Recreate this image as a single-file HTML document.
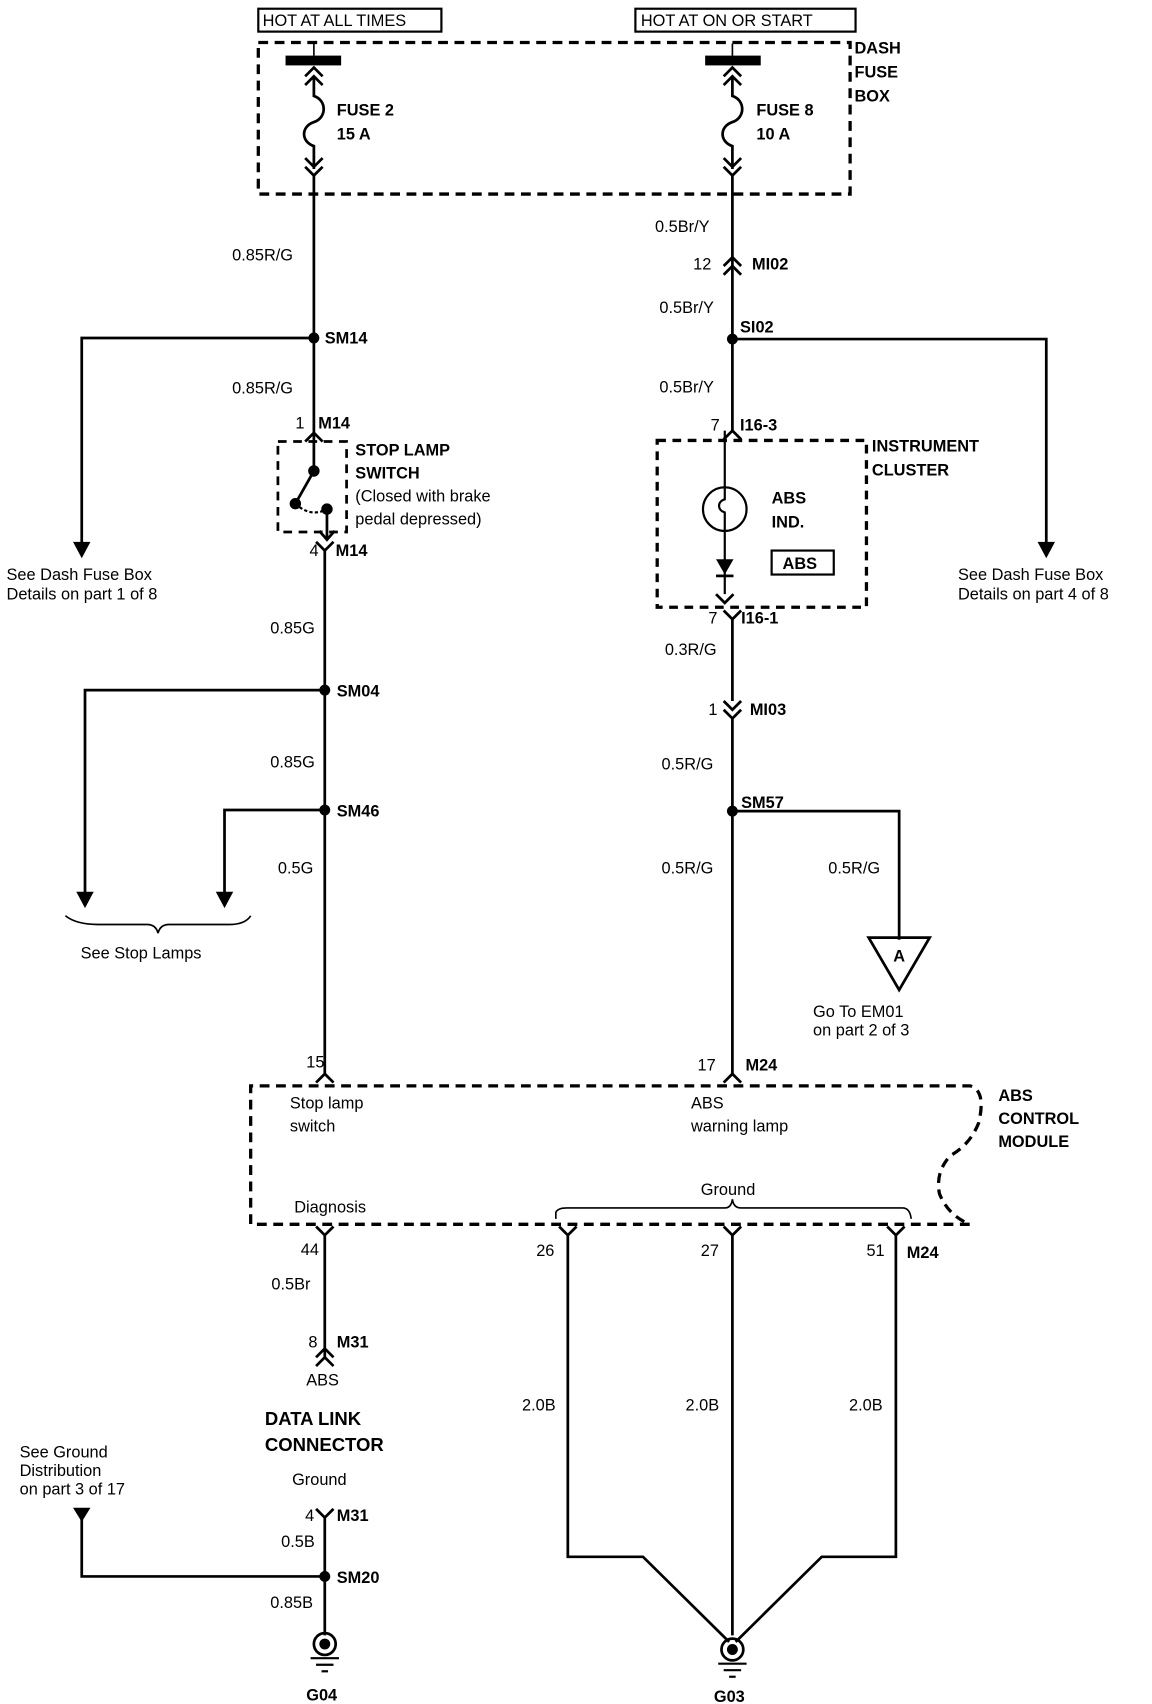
<!DOCTYPE html>
<html><head><meta charset="utf-8"><style>
html,body{margin:0;padding:0;background:#fff;}
svg{display:block}
text{font-family:"Liberation Sans",Arial,sans-serif;font-size:15px;fill:#000}
.b{font-weight:bold}
</style></head><body>
<svg width="1152" height="1704" viewBox="0 0 1057 1563" preserveAspectRatio="none" xmlns="http://www.w3.org/2000/svg">
<g stroke="#000" fill="none" stroke-width="2.5">
<!-- top boxes -->
<rect x="237" y="8" width="168" height="21" stroke-width="2"/>
<rect x="583" y="8" width="202" height="21" stroke-width="2"/>
<rect x="237" y="39" width="543" height="139" stroke-dasharray="9,6" stroke-width="3"/>
<!-- fuse bars -->
<rect x="262" y="51" width="51" height="9" fill="#000" stroke="none"/>
<rect x="647" y="51" width="51" height="9" fill="#000" stroke="none"/>
<line x1="288" y1="40" x2="288" y2="51" stroke-width="1.5"/>
<line x1="672" y1="40" x2="672" y2="51" stroke-width="1.5"/>
<!-- fuse 2 -->
<path d="M280 70 L288 62 L296 70 M280 78 L288 70 L296 78 M288 70 L288 88 C300 92 300 108 288 112 C276 116 276 130 288 134 L288 155 M280 145 L288 153 L296 145 M280 153 L288 161 L296 153"/>
<path d="M664 70 L672 62 L680 70 M664 78 L672 70 L680 78 M672 70 L672 88 C684 92 684 108 672 112 C660 116 660 130 672 134 L672 155 M664 145 L672 153 L680 145 M664 153 L672 161 L680 153"/>
<!-- left main wire -->
<line x1="288" y1="161" x2="288" y2="397"/>
<path d="M280 405 L288 397 L296 405"/>
<rect x="255" y="405" width="63" height="83" stroke-dasharray="8,6" stroke-width="2.5"/>
<path d="M288 397 L288 432 L271 462"/>
<circle cx="288" cy="432" r="4" fill="#000"/>
<circle cx="271" cy="462" r="4" fill="#000"/>
<circle cx="300" cy="467" r="4" fill="#000"/>
<path d="M271 462 Q285 475 300 467" stroke-dasharray="3,2" stroke-width="2"/>
<path d="M300 467 L300 495 M293 487 L300 495 L307 487 M290 497 L298 505 L306 497"/>
<line x1="298" y1="505" x2="298" y2="985"/>
<path d="M290 993 L298 985 L306 993"/>
<!-- left branches -->
<path d="M288 310 L75 310 L75 500"/>
<path d="M298 633 L78 633 L78 820"/>
<path d="M298 743 L206 743 L206 820"/>
<!-- brace See stop lamps -->
<path d="M60 840 Q70 848 90 848 L135 848 Q143 848 145 856 Q147 848 155 848 L210 848 Q225 848 230 840" stroke-width="1.5"/>
<!-- right main wire -->
<line x1="672" y1="161" x2="672" y2="395"/>
<path d="M664 244 L672 236 L680 244 M664 252 L672 244 L680 252"/>
<path d="M664 403 L672 395 L680 403"/>
<rect x="603" y="404" width="192" height="153" stroke-dasharray="8,6" stroke-width="3"/>
<circle cx="665" cy="467" r="20" stroke-width="2"/>
<path d="M665 395 L665 458 C658 460 658 468 665 470 L665 545" stroke-width="2"/>
<path d="M657 545 L665 553 L673 545 M664 560 L672 568 L680 560"/>
<rect x="708" y="505" width="57" height="22" stroke-width="2"/>
<path d="M672 568 L672 643 M664 643 L672 651 L680 643 M664 651 L672 659 L680 651 M672 659 L672 985 M664 993 L672 985 L680 993"/>
<path d="M672 311 L960 311 L960 500"/>
<path d="M672 744 L825 744 L825 862"/>
<!-- ABS control module -->
<path d="M298 996 L890 996 Q905 1000 898 1030 Q890 1050 872 1060 Q858 1075 862 1095 Q870 1115 890 1123 L230 1123 L230 996 L298 996" stroke-dasharray="9,6" stroke-width="3"/>
<path d="M510 1118 L510 1112 Q512 1108 520 1108 L665 1108 Q671 1108 672 1100 Q673 1108 680 1108 L828 1108 Q835 1108 836 1118" stroke-width="1.5"/>
<!-- bottom pins -->
<path d="M290 1125 L298 1133 L306 1125 M298 1133 L298 1245 M290 1253 L298 1245 L306 1253 M290 1245 L298 1237 L306 1245"/>
<path d="M513 1125 L521 1133 L529 1125 M521 1133 L521 1428 L590 1428 L669 1506"/>
<path d="M664 1125 L672 1133 L680 1125 M672 1133 L672 1500"/>
<path d="M814 1125 L822 1133 L830 1125 M822 1133 L822 1428 L754 1428 L675 1506"/>
<!-- G03 -->
<circle cx="672" cy="1513" r="10" stroke-width="2.5"/>
<circle cx="672" cy="1513" r="5" fill="#000" stroke="none"/>
<line x1="659" y1="1526" x2="685" y2="1526" stroke-width="2"/>
<line x1="664" y1="1532" x2="680" y2="1532" stroke-width="2"/>
<line x1="669" y1="1538" x2="675" y2="1538" stroke-width="2"/>
<!-- DLC ground -->
<path d="M290 1384 L298 1392 L306 1384 M298 1392 L298 1500"/>
<path d="M298 1446 L75 1446 L75 1392"/>
<circle cx="298" cy="1508" r="10" stroke-width="2.5"/>
<circle cx="298" cy="1508" r="5" fill="#000" stroke="none"/>
<line x1="285" y1="1521" x2="311" y2="1521" stroke-width="2"/>
<line x1="290" y1="1527" x2="306" y2="1527" stroke-width="2"/>
<line x1="295" y1="1533" x2="301" y2="1533" stroke-width="2"/>
</g>
<g fill="#000">
<circle cx="288" cy="310" r="5"/>
<circle cx="672" cy="311" r="5"/>
<circle cx="298" cy="633" r="5"/>
<circle cx="298" cy="743" r="5"/>
<circle cx="672" cy="744" r="5"/>
<circle cx="298" cy="1446" r="5"/>
<polygon points="67,497 83,497 75,512"/>
<polygon points="952,497 968,497 960,512"/>
<polygon points="70,818 86,818 78,833"/>
<polygon points="198,818 214,818 206,833"/>
<polygon points="67,1383 83,1383 75,1396"/>
<polygon points="657,513 673,513 665,527"/>
<rect x="657" y="527" width="16" height="2.5"/>
</g>
<polygon points="797,860 853,860 825,908" fill="none" stroke="#000" stroke-width="2.5"/>
<text x="825" y="882" class="b" text-anchor="middle">A</text>

<text x="241" y="24">HOT AT ALL TIMES</text>
<text x="588" y="24">HOT AT ON OR START</text>
<text x="784" y="49" class="b">DASH</text>
<text x="784" y="71" class="b">FUSE</text>
<text x="784" y="93" class="b">BOX</text>
<text x="309" y="106" class="b">FUSE 2</text>
<text x="309" y="128" class="b">15 A</text>
<text x="694" y="106" class="b">FUSE 8</text>
<text x="694" y="128" class="b">10 A</text>
<text x="213" y="239">0.85R/G</text>
<text x="298" y="315" class="b">SM14</text>
<text x="213" y="361">0.85R/G</text>
<text x="271" y="393">1</text>
<text x="292" y="393" class="b">M14</text>
<text x="326" y="418" class="b">STOP LAMP</text>
<text x="326" y="439" class="b">SWITCH</text>
<text x="326" y="460">(Closed with brake</text>
<text x="326" y="481">pedal depressed)</text>
<text x="284" y="510">4</text>
<text x="308" y="510" class="b">M14</text>
<text x="6" y="532">See Dash Fuse Box</text>
<text x="6" y="550">Details on part 1 of 8</text>
<text x="248" y="581">0.85G</text>
<text x="309" y="639" class="b">SM04</text>
<text x="248" y="704">0.85G</text>
<text x="309" y="749" class="b">SM46</text>
<text x="255" y="801">0.5G</text>
<text x="74" y="879">See Stop Lamps</text>
<text x="281" y="979">15</text>
<text x="266" y="1017">Stop lamp</text>
<text x="266" y="1038">switch</text>
<text x="270" y="1112">Diagnosis</text>
<text x="276" y="1151">44</text>
<text x="249" y="1183">0.5Br</text>
<text x="283" y="1236">8</text>
<text x="309" y="1236" class="b">M31</text>
<text x="281" y="1271">ABS</text>
<text x="243" y="1307" class="b" style="font-size:17px">DATA LINK</text>
<text x="243" y="1331" class="b" style="font-size:17px">CONNECTOR</text>
<text x="268" y="1362">Ground</text>
<text x="280" y="1395">4</text>
<text x="309" y="1395" class="b">M31</text>
<text x="258" y="1419">0.5B</text>
<text x="309" y="1452" class="b">SM20</text>
<text x="248" y="1475">0.85B</text>
<text x="281" y="1560" class="b">G04</text>
<text x="18" y="1337">See Ground</text>
<text x="18" y="1354">Distribution</text>
<text x="18" y="1371">on part 3 of 17</text>

<text x="601" y="213">0.5Br/Y</text>
<text x="636" y="247">12</text>
<text x="690" y="247" class="b">MI02</text>
<text x="605" y="287">0.5Br/Y</text>
<text x="679" y="305" class="b">SI02</text>
<text x="605" y="360">0.5Br/Y</text>
<text x="652" y="395">7</text>
<text x="679" y="395" class="b">I16-3</text>
<text x="800" y="414" class="b">INSTRUMENT</text>
<text x="800" y="436" class="b">CLUSTER</text>
<text x="708" y="462" class="b">ABS</text>
<text x="708" y="484" class="b">IND.</text>
<text x="718" y="522" class="b">ABS</text>
<text x="879" y="532">See Dash Fuse Box</text>
<text x="879" y="550">Details on  part 4 of 8</text>
<text x="650" y="572">7</text>
<text x="680" y="572" class="b">I16-1</text>
<text x="610" y="601">0.3R/G</text>
<text x="650" y="656">1</text>
<text x="688" y="656" class="b">MI03</text>
<text x="607" y="706">0.5R/G</text>
<text x="680" y="741" class="b">SM57</text>
<text x="607" y="801">0.5R/G</text>
<text x="760" y="801">0.5R/G</text>
<text x="746" y="933">Go To EM01</text>
<text x="746" y="950">on part 2 of 3</text>
<text x="640" y="982">17</text>
<text x="684" y="982" class="b">M24</text>
<text x="634" y="1017">ABS</text>
<text x="634" y="1038">warning lamp</text>
<text x="916" y="1010" class="b">ABS</text>
<text x="916" y="1031" class="b">CONTROL</text>
<text x="916" y="1052" class="b">MODULE</text>
<text x="643" y="1096">Ground</text>
<text x="492" y="1152">26</text>
<text x="643" y="1152">27</text>
<text x="795" y="1152">51</text>
<text x="832" y="1154" class="b">M24</text>
<text x="479" y="1294">2.0B</text>
<text x="629" y="1294">2.0B</text>
<text x="779" y="1294">2.0B</text>
<text x="655" y="1561" class="b">G03</text>
</svg>
</body></html>
